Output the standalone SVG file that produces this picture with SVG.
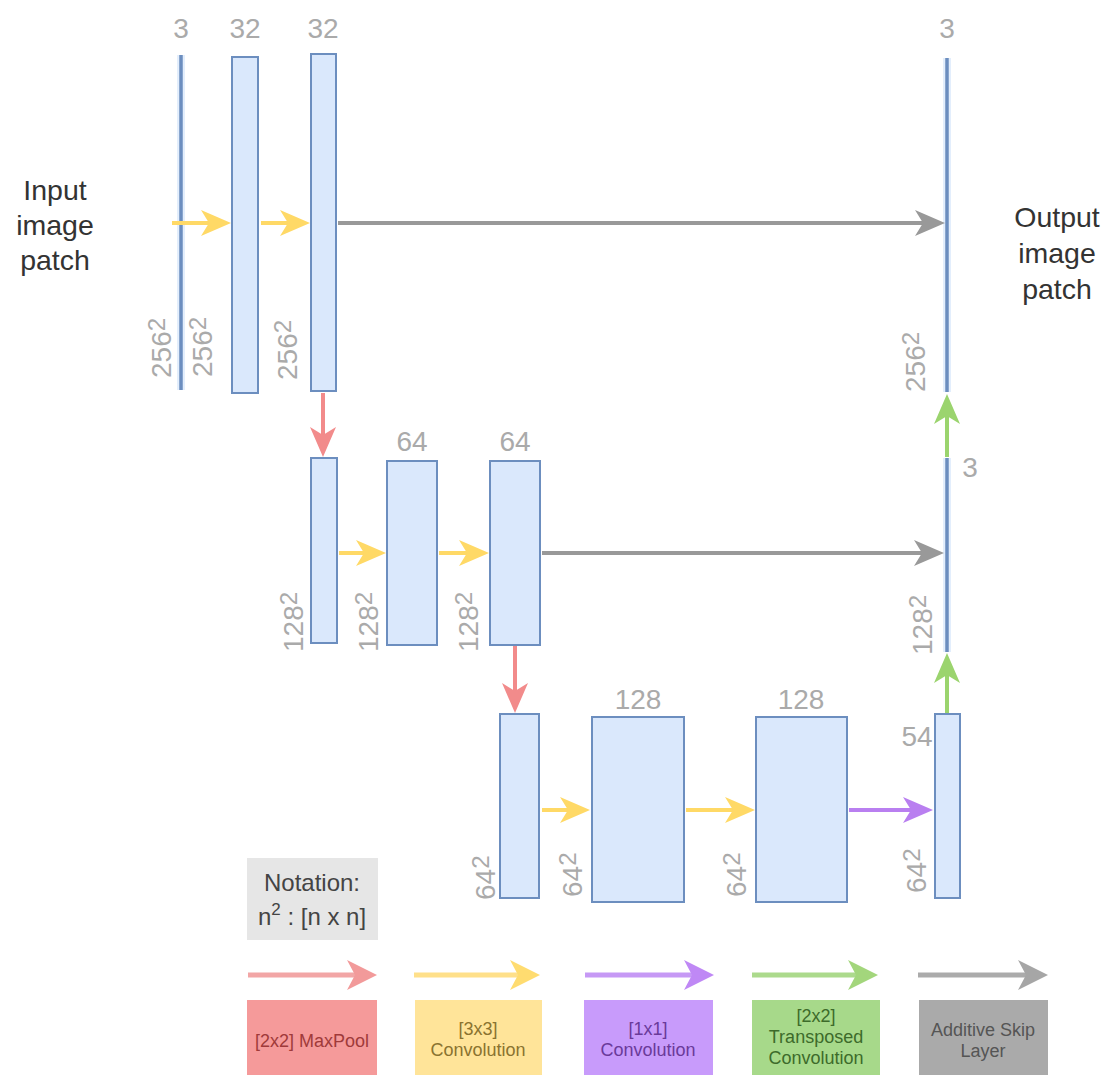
<svg xmlns="http://www.w3.org/2000/svg" width="1110" height="1075" viewBox="0 0 1110 1075">
<style>
  .box { fill: #dae8fc; stroke: #6c8ebf; stroke-width: 2; }
  .vline { stroke: #6c8ebf; stroke-width: 3.5; }
  .halo { stroke: #e3eefc; stroke-width: 8; }
  .num { font-family: "Liberation Sans", Arial, sans-serif; font-size: 28px; fill: #aaaaaa; }
  tspan.sup { font-size: 24px; }
  .big { font-family: "Liberation Sans", Arial, sans-serif; font-size: 28.5px; fill: #333333; text-anchor: middle; }
  .note { font-family: "Liberation Sans", Arial, sans-serif; font-size: 24px; fill: #444444; text-anchor: middle; }
  .leg { font-family: "Liberation Sans", Arial, sans-serif; font-size: 18px; text-anchor: middle; }
  .c { text-anchor: middle; }
  .a-red { stroke: #f28b8b; stroke-width: 4; fill: none; }
  .a-yel { stroke: #ffd966; stroke-width: 4; fill: none; }
  .a-pur { stroke: #b97ff0; stroke-width: 4; fill: none; }
  .a-grn { stroke: #9bd46e; stroke-width: 4; fill: none; }
  .a-gry { stroke: #999999; stroke-width: 4; fill: none; }
</style>
<defs>
  <marker id="h-red" markerUnits="userSpaceOnUse" viewBox="0 0 30 26" markerWidth="30" markerHeight="26" refX="14" refY="13" orient="auto"><path d="M0,0 L30,13 L0,26 L8,13 z" fill="#f28b8b"/></marker>
  <marker id="h-yel" markerUnits="userSpaceOnUse" viewBox="0 0 30 26" markerWidth="30" markerHeight="26" refX="14" refY="13" orient="auto"><path d="M0,0 L30,13 L0,26 L8,13 z" fill="#ffd966"/></marker>
  <marker id="h-pur" markerUnits="userSpaceOnUse" viewBox="0 0 30 26" markerWidth="30" markerHeight="26" refX="14" refY="13" orient="auto"><path d="M0,0 L30,13 L0,26 L8,13 z" fill="#b97ff0"/></marker>
  <marker id="h-grn" markerUnits="userSpaceOnUse" viewBox="0 0 30 26" markerWidth="30" markerHeight="26" refX="14" refY="13" orient="auto"><path d="M0,0 L30,13 L0,26 L8,13 z" fill="#9bd46e"/></marker>
  <marker id="h-gry" markerUnits="userSpaceOnUse" viewBox="0 0 30 26" markerWidth="30" markerHeight="26" refX="14" refY="13" orient="auto"><path d="M0,0 L30,13 L0,26 L8,13 z" fill="#999999"/></marker>
  <marker id="L-red" markerUnits="userSpaceOnUse" viewBox="0 0 30 30" markerWidth="30" markerHeight="30" refX="14" refY="15" orient="auto"><path d="M0,0 L30,15 L0,30 L8,15 z" fill="#f29a9a"/></marker>
  <marker id="L-yel" markerUnits="userSpaceOnUse" viewBox="0 0 30 30" markerWidth="30" markerHeight="30" refX="14" refY="15" orient="auto"><path d="M0,0 L30,15 L0,30 L8,15 z" fill="#ffdc70"/></marker>
  <marker id="L-pur" markerUnits="userSpaceOnUse" viewBox="0 0 30 30" markerWidth="30" markerHeight="30" refX="14" refY="15" orient="auto"><path d="M0,0 L30,15 L0,30 L8,15 z" fill="#bf88f5"/></marker>
  <marker id="L-grn" markerUnits="userSpaceOnUse" viewBox="0 0 30 30" markerWidth="30" markerHeight="30" refX="14" refY="15" orient="auto"><path d="M0,0 L30,15 L0,30 L8,15 z" fill="#a3d67c"/></marker>
  <marker id="L-gry" markerUnits="userSpaceOnUse" viewBox="0 0 30 30" markerWidth="30" markerHeight="30" refX="14" refY="15" orient="auto"><path d="M0,0 L30,15 L0,30 L8,15 z" fill="#a6a6a6"/></marker>
</defs>
<rect width="1110" height="1075" fill="#ffffff"/>

<text class="big" x="55" y="200">Input</text>
<text class="big" x="55" y="235">image</text>
<text class="big" x="55" y="270">patch</text>
<text class="big" x="1057" y="227">Output</text>
<text class="big" x="1057" y="263">image</text>
<text class="big" x="1057" y="299">patch</text>

<!-- Row 1 -->
<g id="input">
  <line class="halo" x1="181" y1="55" x2="181" y2="390"/>
  <line class="vline" x1="181" y1="55" x2="181" y2="390"/>
  <text class="num c" x="181" y="38">3</text>
  <text class="num" x="171" y="378" transform="rotate(-90 171 378)">256<tspan class="sup" dy="-6">2</tspan></text>
</g>
<g id="conv1a">
  <rect class="box" x="232" y="57" width="26" height="336"/>
  <text class="num c" x="245" y="38">32</text>
  <text class="num" x="212" y="377" transform="rotate(-90 212 377)">256<tspan class="sup" dy="-6">2</tspan></text>
</g>
<g id="conv1b">
  <rect class="box" x="311" y="54" width="25" height="337"/>
  <text class="num c" x="323" y="38">32</text>
  <text class="num" x="297" y="380" transform="rotate(-90 297 380)">256<tspan class="sup" dy="-6">2</tspan></text>
</g>
<g id="output">
  <line class="halo" x1="947" y1="58" x2="947" y2="392"/>
  <line class="vline" x1="947" y1="58" x2="947" y2="392"/>
  <text class="num c" x="947" y="38">3</text>
  <text class="num" x="925" y="392" transform="rotate(-90 925 392)">256<tspan class="sup" dy="-6">2</tspan></text>
</g>

<!-- Row 2 -->
<g id="pool1">
  <rect class="box" x="311" y="458" width="26" height="185"/>
  <text class="num" x="303" y="652" transform="rotate(-90 303 652)">128<tspan class="sup" dy="-6">2</tspan></text>
</g>
<g id="conv2a">
  <rect class="box" x="387" y="461" width="50" height="184"/>
  <text class="num c" x="412" y="451">64</text>
  <text class="num" x="378" y="652" transform="rotate(-90 378 652)">128<tspan class="sup" dy="-6">2</tspan></text>
</g>
<g id="conv2b">
  <rect class="box" x="490" y="461" width="50" height="184"/>
  <text class="num c" x="515" y="451">64</text>
  <text class="num" x="478" y="652" transform="rotate(-90 478 652)">128<tspan class="sup" dy="-6">2</tspan></text>
</g>
<g id="up1">
  <line class="halo" x1="947" y1="458" x2="947" y2="652"/>
  <line class="vline" x1="947" y1="458" x2="947" y2="652"/>
  <text class="num c" x="970" y="477">3</text>
  <text class="num" x="932" y="655" transform="rotate(-90 932 655)">128<tspan class="sup" dy="-6">2</tspan></text>
</g>

<!-- Row 3 -->
<g id="pool2">
  <rect class="box" x="500" y="714" width="39" height="184"/>
  <text class="num" x="495" y="900" transform="rotate(-90 495 900)">64<tspan class="sup" dy="-6">2</tspan></text>
</g>
<g id="conv3a">
  <rect class="box" x="592" y="717" width="92" height="185"/>
  <text class="num c" x="638" y="709">128</text>
  <text class="num" x="582" y="897" transform="rotate(-90 582 897)">64<tspan class="sup" dy="-6">2</tspan></text>
</g>
<g id="conv3b">
  <rect class="box" x="756" y="717" width="91" height="185"/>
  <text class="num c" x="801" y="709">128</text>
  <text class="num" x="746" y="897" transform="rotate(-90 746 897)">64<tspan class="sup" dy="-6">2</tspan></text>
</g>
<g id="conv3c">
  <rect class="box" x="935" y="714" width="25" height="184"/>
  <text class="num c" x="917" y="746">54</text>
  <text class="num" x="926" y="893" transform="rotate(-90 926 893)">64<tspan class="sup" dy="-6">2</tspan></text>
</g>

<g id="notation">
  <rect x="247" y="858" width="131" height="82" fill="#e6e6e6"/>
  <text class="note" x="312" y="891">Notation:</text>
  <text class="note" x="312" y="925">n<tspan font-size="17" dy="-10">2</tspan><tspan dy="10"> : [n x n]</tspan></text>
</g>

<g id="connectors">
  <line class="a-yel" x1="172" y1="223" x2="215" y2="223" marker-end="url(#h-yel)"/>
  <line class="a-yel" x1="261" y1="223" x2="294" y2="223" marker-end="url(#h-yel)"/>
  <line class="a-gry" x1="338" y1="223" x2="929" y2="223" marker-end="url(#h-gry)"/>
  <line class="a-red" x1="323" y1="393" x2="323" y2="441" marker-end="url(#h-red)"/>
  <line class="a-yel" x1="339" y1="553" x2="370" y2="553" marker-end="url(#h-yel)"/>
  <line class="a-yel" x1="439" y1="553" x2="473" y2="553" marker-end="url(#h-yel)"/>
  <line class="a-gry" x1="542" y1="553" x2="928" y2="553" marker-end="url(#h-gry)"/>
  <line class="a-red" x1="515" y1="646" x2="515" y2="697" marker-end="url(#h-red)"/>
  <line class="a-yel" x1="542" y1="810" x2="574" y2="810" marker-end="url(#h-yel)"/>
  <line class="a-yel" x1="686" y1="810" x2="739" y2="810" marker-end="url(#h-yel)"/>
  <line class="a-pur" x1="849" y1="810" x2="917" y2="810" marker-end="url(#h-pur)"/>
  <line class="a-grn" x1="947" y1="713" x2="947" y2="669" marker-end="url(#h-grn)"/>
  <line class="a-grn" x1="947" y1="457" x2="947" y2="410" marker-end="url(#h-grn)"/>
</g>

<g id="legend-maxpool">
  <line stroke="#f2a6a6" stroke-width="5" x1="248" y1="975" x2="361" y2="975" marker-end="url(#L-red)"/>
  <rect x="247" y="1000" width="130" height="80" fill="#f59a9a"/>
  <text class="leg" x="312" y="1047" fill="#a03a3a">[2x2] MaxPool</text>
</g>
<g id="legend-conv3">
  <line stroke="#ffe08a" stroke-width="5" x1="414" y1="975" x2="524" y2="975" marker-end="url(#L-yel)"/>
  <rect x="415" y="1000" width="127" height="80" fill="#ffe499"/>
  <text class="leg" x="478" y="1035" fill="#8a7330">[3x3]</text>
  <text class="leg" x="478" y="1056" fill="#8a7330">Convolution</text>
</g>
<g id="legend-conv1">
  <line stroke="#c699f5" stroke-width="5" x1="585" y1="975" x2="698" y2="975" marker-end="url(#L-pur)"/>
  <rect x="584" y="1000" width="129" height="80" fill="#c89bfb"/>
  <text class="leg" x="648" y="1035" fill="#6a3a9a">[1x1]</text>
  <text class="leg" x="648" y="1056" fill="#6a3a9a">Convolution</text>
</g>
<g id="legend-tconv">
  <line stroke="#acda8c" stroke-width="5" x1="752" y1="975" x2="862" y2="975" marker-end="url(#L-grn)"/>
  <rect x="752" y="1000" width="128" height="80" fill="#a7d98a"/>
  <text class="leg" x="816" y="1022" fill="#3d6b2a">[2x2]</text>
  <text class="leg" x="816" y="1043" fill="#3d6b2a">Transposed</text>
  <text class="leg" x="816" y="1064" fill="#3d6b2a">Convolution</text>
</g>
<g id="legend-skip">
  <line stroke="#ababab" stroke-width="5" x1="918" y1="975" x2="1032" y2="975" marker-end="url(#L-gry)"/>
  <rect x="919" y="1000" width="129" height="80" fill="#aaaaaa"/>
  <text class="leg" x="983" y="1036" fill="#555555">Additive Skip</text>
  <text class="leg" x="983" y="1057" fill="#555555">Layer</text>
</g>
</svg>
